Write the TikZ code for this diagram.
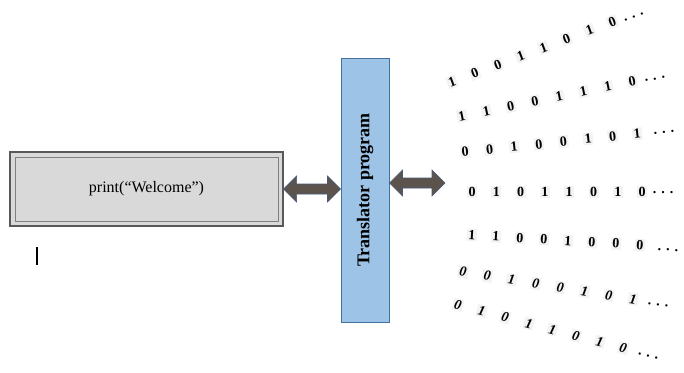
\documentclass[tikz,border=0pt]{standalone}
\usepackage{fontspec}
\setmainfont{Liberation Serif}
\usetikzlibrary{calc}
\definecolor{boxfill}{RGB}{217,217,217}
\definecolor{boxedge}{RGB}{89,89,89}
\definecolor{boxinner}{RGB}{127,127,127}
\definecolor{transfill}{RGB}{157,195,230}
\definecolor{transedge}{RGB}{65,113,156}
\definecolor{arrfill}{RGB}{92,84,76}
\definecolor{arredge}{RGB}{70,90,125}
\definecolor{bitbg}{RGB}{243,243,243}
\newcommand\dblarrow[2]{%
  \path[bigarrow] let \p1=(#1), \p2=(#2), \n1={\x2-\x1-26pt} in
    (\p1) -- ++(13,-13) -- ++(0,8) -- ++(\n1,0) -- ++(0,-8) -- ++(13,13)
    -- ++(-13,13) -- ++(0,-8) -- ++({-\n1},0) -- ++(0,8) -- cycle;}
\begin{document}
\begin{tikzpicture}[x=1pt,y=-1pt,
  codebox/.style={draw=boxedge, line width=1.2pt, fill=boxfill, minimum width=273pt,
    minimum height=74pt, inner sep=0pt, font=\fontsize{16}{19}\selectfont},
  innerframe/.style={draw=boxinner, line width=0.9pt},
  transbox/.style={draw=transedge, line width=1pt, fill=transfill, minimum width=48pt,
    minimum height=264pt, inner sep=0pt},
  translabel/.style={rotate=90, inner sep=0pt, font=\fontsize{18}{21}\selectfont\bfseries},
  bigarrow/.style={fill=arrfill, draw=arredge, line width=0.6pt, line join=miter},
  bit/.style={fill=bitbg, inner sep=1.5pt, font=\fontsize{14}{16}\selectfont\bfseries},
  ibit/.style={fill=bitbg, inner sep=1.5pt, font=\fontsize{14}{16}\selectfont\bfseries\itshape},
  bitdots/.style={inner sep=1pt, font=\fontsize{14}{16}\selectfont\bfseries}]
\useasboundingbox (0,0) rectangle (684,372);
% code box
\node[codebox] (box) at (146.5,189) {print(“Welcome”)};
\draw[innerframe] ([shift={(6,6)}]box.north west) rectangle ([shift={(-5,-5)}]box.south east);
% cursor
\draw[line width=1.4pt] (37,247) -- (37,265);
% translator
\node[transbox] (trans) at (365,190) {};
\node[translabel] (translbl) at (trans.center) {Translator program};
% arrows
\dblarrow{box.east}{box.east -| trans.west}
\coordinate (bitsin) at (445,183);
\dblarrow{trans.east |- bitsin}{bitsin}
% bit rows (upright)
\foreach \r/\xo/\yo/\dx/\dy/\ang/\bits/\ox/\oy in {
  1/452/82/22.9/-8.6/20.6/{1,0,0,1,1,0,1,0}/634/17,
  2/462/116/24.3/-4.9/11.4/{1,1,0,0,1,1,1,0}/655/79,
  3/465/152/24.6/-2.6/6/{0,0,1,0,0,1,0,1}/664/132,
  4/472/192/24.3/0/0/{0,1,0,1,1,0,1,0}/663/193,
  5/472/235/24/1.43/-3.4/{1,1,0,0,1,0,0,0}/668/250}{
  \foreach \d [count=\i from 0] in \bits {
    \node[bit, rotate=\ang] (r\r b\i) at ({\xo+\i*\dx},{\yo+\i*\dy}) {\d};
  }
  \node[bitdots, rotate=\ang] (r\r dots) at (\ox,\oy) {.\hspace{5pt}.\hspace{5pt}.};
}
% bit rows (italic)
\foreach \r/\xo/\yo/\dx/\dy/\ang/\bits/\ox/\oy in {
  6/463/272/24.3/3.86/-9/{0,0,1,0,0,1,0,1}/658/305,
  7/458/305/23.6/6.14/-14.6/{0,1,0,1,1,0,1,0}/648/356}{
  \foreach \d [count=\i from 0] in \bits {
    \node[ibit, rotate=\ang] (r\r b\i) at ({\xo+\i*\dx},{\yo+\i*\dy}) {\d};
  }
  \node[bitdots, rotate=\ang] (r\r dots) at (\ox,\oy) {.\hspace{5pt}.\hspace{5pt}.};
}
\end{tikzpicture}
\end{document}
